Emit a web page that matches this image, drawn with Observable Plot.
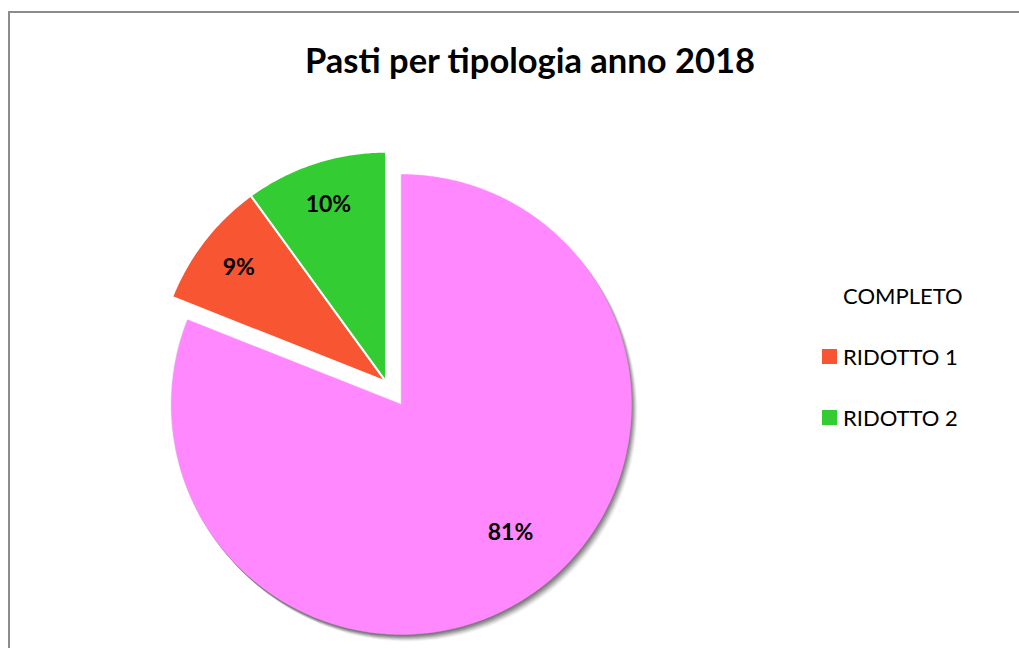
<!DOCTYPE html>
<html>
<head>
<meta charset="utf-8">
<script src="https://cdn.jsdelivr.net/npm/d3@7"></script>
<script src="https://cdn.jsdelivr.net/npm/@observablehq/plot@0.6"></script>
<style>
  html, body { margin: 0; padding: 0; background: #fff; }
  #wrap { position: relative; width: 1019px; height: 648px; overflow: hidden; font-family: Lato, "Open Sans", sans-serif; }
  #frame { position: absolute; left: 8px; top: 11px; width: 1100px; height: 700px; border: 2px solid #8c8c8c; box-sizing: border-box; }
  #title { position: absolute; left: 0; width: 1060px; top: 40px; text-align: center; font-weight: bold; font-size: 34.5px; line-height: 40px; color: #000; }
  #chart { position: absolute; left: 0; top: 0; }
  #legend { position: absolute; left: 822px; top: 265px; font-size: 22px; color: #000; }
  .item { display: flex; align-items: center; height: 61px; }
  .sw { width: 15px; height: 15px; margin-right: 6px; }
</style>
</head>
<body>
<div id="wrap">
  <div id="frame"></div>
  <div id="title">Pasti per tipologia anno 2018</div>
  <div id="chart"></div>
  <div id="legend"></div>
</div>
<script>
// ---- data ----
const categories = ["COMPLETO", "RIDOTTO 1", "RIDOTTO 2"];
const values = [81, 9, 10];
const colors = ["#ff88ff", "#f85532", "#33cc33"];
const explodedCategories = ["RIDOTTO 1", "RIDOTTO 2"];

// ---- layout config ----
const W = 1019, H = 648;
const cx = 401, cy = 404, R = 230;
const explodeFrac = 0.12;

const total = d3.sum(values);
let acc = 0;
const slices = categories.map((c, i) => {
  const a0 = acc / total * 2 * Math.PI;
  acc += values[i];
  const a1 = acc / total * 2 * Math.PI;
  return {key: c, value: values[i], a0, a1, exploded: explodedCategories.includes(c)};
});
const ex = slices.filter(s => s.exploded);
const gMid = (d3.min(ex, s => s.a0) + d3.max(ex, s => s.a1)) / 2;
const ox = Math.sin(gMid) * explodeFrac, oy = Math.cos(gMid) * explodeFrac;

const pts = [];
for (const s of slices) {
  const dx = s.exploded ? ox : 0, dy = s.exploded ? oy : 0;
  pts.push({key: s.key, x: dx, y: dy});
  const n = Math.max(2, Math.ceil((s.a1 - s.a0) / (Math.PI / 360)));
  for (let k = 0; k <= n; k++) {
    const a = s.a0 + (s.a1 - s.a0) * k / n;
    pts.push({key: s.key, x: dx + Math.sin(a), y: dy + Math.cos(a)});
  }
  pts.push({key: s.key, x: dx, y: dy});
}
// label placement: exploded slices at mid-angle; large slice nudged (best-fit style)
const labels = slices.map(s => {
  const m = (s.a0 + s.a1) / 2 - (s.exploded ? 0 : 0.11);
  const rr = s.exploded ? 0.81 : 0.73;
  const dx = s.exploded ? ox : 0, dy = s.exploded ? oy : 0;
  return {key: s.key, x: dx + Math.sin(m) * rr, y: dy + Math.cos(m) * rr, text: Math.round(s.value / total * 100) + "%"};
});
const mainPts = pts.filter(p => !explodedCategories.includes(p.key));
const exPts = pts.filter(p => explodedCategories.includes(p.key));

// soft shadow layers under the main slice
const shadowLayers = [[-1, 0, 0.08], [0, 1, 0.12], [1, 2, 0.14], [2, 3, 0.14], [3, 4, 0.12], [4, 5, 0.10], [5, 6, 0.07], [6, 7, 0.04]];

const color = {domain: categories, range: colors};
const plot = Plot.plot({
  width: W, height: H,
  margin: 0,
  x: {domain: [-1, 1], range: [cx - R, cx + R], axis: null},
  y: {domain: [-1, 1], range: [cy + R, cy - R], axis: null},
  color,
  style: {background: "transparent", fontFamily: "Lato, 'Open Sans', sans-serif"},
  marks: [
    ...shadowLayers.map(([dx, dy, o]) => Plot.line(mainPts, {x: "x", y: "y", z: "key", fill: "#000", fillOpacity: o, stroke: "none", dx, dy})),
    Plot.line(mainPts, {x: "x", y: "y", z: "key", fill: "key", stroke: "key", strokeWidth: 0.5}),
    Plot.line(exPts, {x: "x", y: "y", z: "key", fill: "key", stroke: "white", strokeWidth: 2, strokeLinejoin: "miter"}),
    Plot.text(labels, {x: "x", y: "y", text: "text", fontSize: 23, fontWeight: "bold", fill: "black"})
  ]
});
document.getElementById("chart").appendChild(plot);

// legend
const leg = d3.select("#legend");
categories.forEach((c, i) => {
  const it = leg.append("div").attr("class", "item");
  it.append("div").attr("class", "sw").style("background", i === 0 ? "transparent" : colors[i]);
  it.append("span").text(c);
});
</script>
</body>
</html>
